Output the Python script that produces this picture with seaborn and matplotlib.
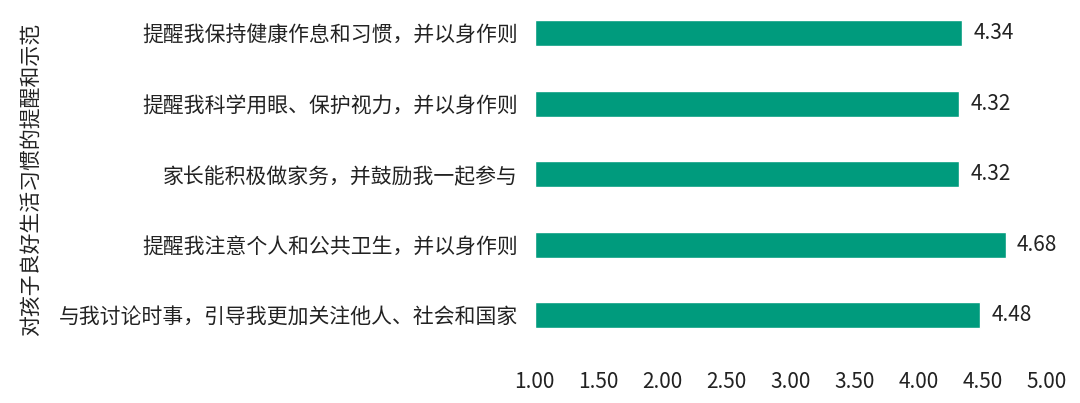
import pandas as pd
import matplotlib
matplotlib.use("Agg")
import matplotlib.pyplot as plt
import seaborn as sns

sns.set_theme(style="white")
plt.rcParams['font.family'] = ['Noto Sans CJK SC', 'DejaVu Sans']

# data, top to bottom as in the chart
items = [
    "提醒我保持健康作息和习惯，并以身作则",
    "提醒我科学用眼、保护视力，并以身作则",
    "家长能积极做家务，并鼓励我一起参与",
    "提醒我注意个人和公共卫生，并以身作则",
    "与我讨论时事，引导我更加关注他人、社会和国家",
]
scores = [4.34, 4.32, 4.32, 4.68, 4.48]
x_ticks = [1.0, 1.5, 2.0, 2.5, 3.0, 3.5, 4.0, 4.5, 5.0]
y_title = "对孩子良好生活习惯的提醒和示范"

df = pd.DataFrame({"item": items, "score": scores})
base = 1.0  # bars start at 1.00

fig = plt.figure(figsize=(10.8, 4.03), dpi=100)
ax = fig.add_axes([0.495, 0.13, 0.474, 0.875])

# draw the extent from the baseline, then shift the bars onto it
df["extent"] = df["score"] - base
sns.barplot(data=df, y="item", x="extent", color="#009B7D", width=0.37,
            saturation=1, ax=ax)
for p in ax.patches:
    p.set_x(p.get_x() + base)

ax.set_xlim(1.0, 5.0)
ax.set_xticks(x_ticks)
ax.set_xticklabels([f"{t:.2f}" for t in x_ticks], fontsize=15, color="#222222")
ax.tick_params(axis="x", pad=15, length=0)
ax.tick_params(axis="y", pad=12, length=0, labelsize=15, labelcolor="#222222")
ax.set_xlabel("")
ax.set_ylabel("")

for i, v in enumerate(scores):
    ax.text(v + 0.09, i, f"{v:.2f}", va="center", ha="left", fontsize=15,
            color="#222222")

fig.text(0.028, 0.555, y_title, rotation=90, va="center", ha="center",
         fontsize=15, color="#222222")

sns.despine(ax=ax, left=True, bottom=True)
fig.savefig("out.png", dpi=100)
